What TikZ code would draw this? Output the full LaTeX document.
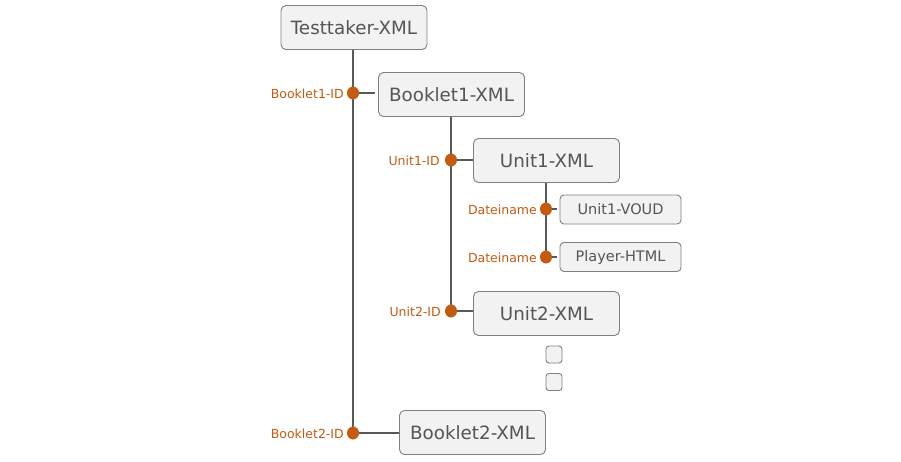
\documentclass[tikz,border=0pt]{standalone}
\usepackage{fontspec}
\setmainfont{DejaVu Sans}
\definecolor{boxfill}{HTML}{F2F2F2}
\definecolor{boxdraw}{HTML}{7F7F7F}
\definecolor{txt}{HTML}{555555}
\definecolor{ln}{HTML}{595959}
\definecolor{org}{HTML}{C55A11}
\tikzset{
  bigbox/.style={draw=boxdraw, fill=boxfill, rounded corners=5pt, line width=0.9pt,
    minimum width=146pt, minimum height=44pt, inner sep=0pt, text=txt,
    font=\fontsize{18.3}{22}\selectfont},
  smallbox/.style={draw=boxdraw, fill=boxfill, rounded corners=4pt, line width=0.9pt,
    minimum width=121pt, minimum height=29pt, inner sep=0pt, text=txt,
    font=\fontsize{14.5}{17}\selectfont},
  tinybox/.style={draw=boxdraw, fill=boxfill, rounded corners=3pt, line width=0.9pt,
    minimum width=16pt, minimum height=17pt, inner sep=0pt},
  conn/.style={draw=ln, line width=2pt},
  dotn/.style={ellipse, fill=org, minimum width=12pt, minimum height=13pt, inner sep=0pt},
  lbl/.style={text=org, font=\fontsize{12.5}{15}\selectfont, anchor=east, inner sep=0pt}
}
\usetikzlibrary{shapes.geometric}
\begin{document}
\begin{tikzpicture}[x=1pt,y=-1pt]
\useasboundingbox (0,0) rectangle (901,461);
% boxes
\node[bigbox] (tt) at (354,27.5) {Testtaker-XML};
\node[bigbox] (b1) at (451.5,94.5) {Booklet1-XML};
\node[bigbox] (u1) at (546.5,160.5) {Unit1-XML};
\node[smallbox] (voud) at (620.5,209.5) {Unit1-VOUD};
\node[smallbox] (ph) at (620.5,257) {Player-HTML};
\node[bigbox] (u2) at (546.5,313.5) {Unit2-XML};
\node[tinybox] (s1) at (554,354.5) {};
\node[tinybox] (s2) at (554,382) {};
\node[bigbox] (b2) at (472.5,432.5) {Booklet2-XML};
% junction points
\coordinate (jb1) at (353,93);
\coordinate (jb2) at (353,433);
\coordinate (ju1) at (451,160);
\coordinate (ju2) at (451,311);
\coordinate (jv) at (546,209);
\coordinate (jp) at (546,257);
% connectors
\draw[conn] (tt.south -| jb1) -- (jb2);
\draw[conn] (jb1) -- ([xshift=-3pt]b1.west |- jb1);
\draw[conn] (jb2) -- (b2.west |- jb2);
\draw[conn] (b1.south -| ju1) -- (ju2);
\draw[conn] (ju1) -- (u1.west |- ju1);
\draw[conn] (ju2) -- (u2.west |- ju2);
\draw[conn] (u1.south -| jv) -- (jp);
\draw[conn] (jv) -- ([xshift=-3pt]voud.west |- jv);
\draw[conn] (jp) -- ([xshift=-3pt]ph.west |- jp);
% dots
\node[dotn] (db1) at (jb1) {};
\node[dotn] (db2) at (jb2) {};
\node[dotn] (du1) at (ju1) {};
\node[dotn] (du2) at (ju2) {};
\node[dotn] (dv) at (jv) {};
\node[dotn] (dp) at (jp) {};
% labels
\node[lbl] (lb1) at (344,94) {Booklet1-ID};
\node[lbl] (lb2) at (344,434) {Booklet2-ID};
\node[lbl] (lu1) at (440,161) {Unit1-ID};
\node[lbl] (lu2) at (441,312) {Unit2-ID};
\node[lbl] (lv) at (537,210) {Dateiname};
\node[lbl] (lp) at (537,258) {Dateiname};
\end{tikzpicture}
\end{document}
